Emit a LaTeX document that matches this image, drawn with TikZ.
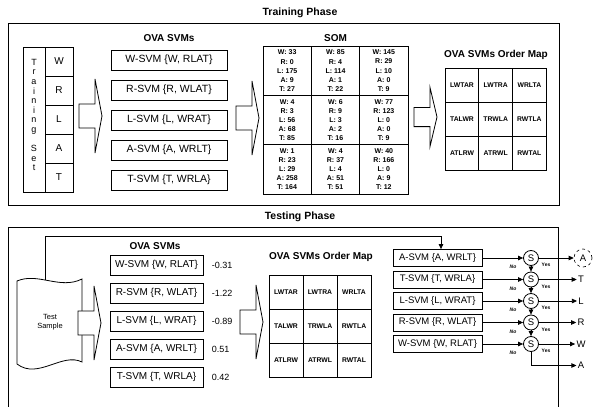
\documentclass[tikz,border=0pt]{standalone}
\usepackage{fontspec}
\setmainfont{Liberation Sans}
\usetikzlibrary{arrows.meta, positioning}

\tikzset{
  fatarrow/.pic={
    \draw[fill=white] (0,-12) -- (16,-12) -- (16,-37) -- (23,0)
      -- (16,37) -- (16,12) -- (0,12) -- cycle;
  }
}

\begin{document}
\begin{tikzpicture}[x=1pt, y=-1pt, line width=0.8pt,
    svmbox/.style={draw, inner sep=0pt, minimum height=20pt},
    mapcell/.style={draw, inner sep=0pt, minimum width=33.7pt, minimum height=34pt,
      font=\bfseries\fontsize{6.8}{8}\selectfont},
    somcell/.style={draw, inner sep=0pt, align=center,
      minimum width=48.3pt, minimum height=49.3pt,
      font=\bfseries\fontsize{7}{9.1}\selectfont},
    heading/.style={font=\bfseries\fontsize{10}{12}\selectfont},
    phase/.style={font=\bfseries\fontsize{10.5}{12}\selectfont},
    decide/.style={draw, circle, inner sep=0pt, minimum size=15pt,
      font=\fontsize{9.5}{10}\selectfont},
    outlabel/.style={inner sep=1pt, font=\fontsize{9.5}{11}\selectfont},
    flow/.style={-{Triangle[length=5pt, width=4.5pt]}, line width=0.7pt},
    tinyno/.style={inner sep=0pt, font=\bfseries\itshape\fontsize{5}{6}\selectfont},
    tinyyes/.style={inner sep=0pt, font=\bfseries\fontsize{5}{6}\selectfont}]
  \useasboundingbox (0,0) rectangle (598,407);

  % training phase
  \node[phase] (trainhead) at (300,13) {Training Phase};
  \draw (8,23.5) rectangle (559,205);

  % training set
  \draw (23,47) rectangle (45,192);
  \node[align=center, inner sep=0pt, font=\fontsize{9}{9.6}\selectfont] (tsname)
    at (34,115) {T\\r\\a\\i\\n\\i\\n\\g\\[9.6pt]S\\e\\t};
  \foreach \l [count=\i from 0] in {W,R,L,A,T}
    \node[draw, inner sep=0pt, minimum width=28pt, minimum height=29pt,
      font=\fontsize{10}{12}\selectfont] (ts\l) at (59,61.5+29*\i) {\l};

  \pic at (79,116) {fatarrow};

  % OVA SVMs
  \node[heading] (trsvmhead) at (169,38) {OVA SVMs};
  \foreach \c/\o [count=\i from 0] in {W/RLAT,R/WLAT,L/WRAT,A/WRLT,T/WRLA}
    \node[svmbox, minimum width=116pt, font=\fontsize{10.5}{12}\selectfont]
      (trsvm\c) at (169,60+30*\i) {\c-SVM \{\c, \o\}};

  \pic at (236,118) {fatarrow};

  % SOM
  \node[heading] (somhead) at (335.5,38) {SOM};
  \foreach \row [count=\j from 0] in {
      {{W: 33\\R: 0\\L: 175\\A: 9\\T: 27},{W: 85\\R: 4\\L: 114\\A: 1\\T: 22},{W: 145\\R: 29\\L: 10\\A: 0\\T: 9}},
      {{W: 4\\R: 3\\L: 56\\A: 68\\T: 85},{W: 6\\R: 9\\L: 3\\A: 2\\T: 16},{W: 77\\R: 123\\L: 0\\A: 0\\T: 9}},
      {{W: 1\\R: 23\\L: 29\\A: 258\\T: 164},{W: 4\\R: 37\\L: 4\\A: 51\\T: 51},{W: 40\\R: 166\\L: 0\\A: 9\\T: 12}}}
    \foreach \cell [count=\i from 0] in \row
      \node[somcell] (som\i\j) at (287.2+48.3*\i,70.7+49.3*\j) {\cell};

  \pic[yscale=0.8] at (414,117) {fatarrow};

  % order map
  \node[heading] (trmaphead) at (496,55) {OVA SVMs Order Map};
  \foreach \row [count=\j from 0] in {{LWTAR,LWTRA,WRLTA},{TALWR,TRWLA,RWTLA},{ATLRW,ATRWL,RWTAL}}
    \foreach \cell [count=\i from 0] in \row
      \node[mapcell] (trmap\i\j) at (462+33.7*\i,85+34*\j) {\cell};

  % testing phase
  \node[phase] (testhead) at (300,217) {Testing Phase};
  \draw (8,407) -- (8,227) -- (558,227) -- (558,407);

  % test sample
  \draw (17,281) .. controls (38,272) and (60,290) .. (82,279) -- (82,362)
    .. controls (62,352) and (38,380) .. (17,364) -- cycle;
  \node[align=center, font=\fontsize{7.5}{9}\selectfont] (test) at (50,322) {Test\\Sample};
  \coordinate (testtop) at (45,280);
  \coordinate (looptop) at (45,236);

  \pic at (78,323) {fatarrow};

  \node[heading] (tssvmhead) at (155,246) {OVA SVMs};
  \foreach \c/\o/\v [count=\i from 0] in {W/RLAT/-0.31,R/WLAT/-1.22,L/WRAT/-0.89,A/WRLT/0.51,T/WRLA/0.42} {
    \node[svmbox, minimum width=93pt, font=\fontsize{10}{12}\selectfont]
      (tssvm\c) at (156.5,265+28*\i) {\c-SVM \{\c, \o\}};
    \node[right=8pt of tssvm\c, inner sep=0pt, font=\fontsize{9}{11}\selectfont] (val\c) {\v};
  }

  \pic at (240,322) {fatarrow};

  \node[heading] (tsmaphead) at (321,257) {OVA SVMs Order Map};
  \foreach \row [count=\j from 0] in {{LWTAR,LWTRA,WRLTA},{TALWR,TRWLA,RWTLA},{ATLRW,ATRWL,RWTAL}}
    \foreach \cell [count=\i from 0] in \row
      \node[mapcell, minimum width=34pt] (tsmap\i\j) at (286+34*\i,292+34*\j) {\cell};

  % cascade
  \foreach \c/\o [count=\i from 0] in {A/WRLT,T/WRLA,L/WRAT,R/WLAT,W/RLAT} {
    \node[svmbox, minimum width=89pt, minimum height=17pt, font=\fontsize{9.5}{11}\selectfont]
      (cas\i) at (437.5,258+21.5*\i) {\c-SVM \{\c, \o\}};
    \node[decide] (dec\i) at (531,258+21.5*\i) {S};
    \draw[flow] (cas\i) -- (dec\i);
    \node[tinyno] (no\i) at (513,267+21.5*\i) {No};
    \node[tinyyes] (yes\i) at (546,265+21.5*\i) {Yes};
  }
  \node[outlabel, draw, circle, dashed, line width=0.6pt, minimum size=18pt] (out0) at (583,258) {A};
  \foreach \c [count=\i] in {T,L,R,W}
    \node[outlabel] (out\i) at (581,258+21.5*\i) {\c};
  \node[outlabel] (out5) at (581,365.5) {A};

  \foreach \i in {0,...,4}
    \draw[flow] (dec\i) -- (out\i);
  \foreach \i/\j in {0/1,1/2,2/3,3/4}
    \draw[flow] (dec\i) -- (dec\j);
  \draw[flow] (dec4) |- (out5);
  \draw[flow] (testtop) -- (looptop) -| ([xshift=3.5pt]cas0.north);
\end{tikzpicture}
\end{document}
